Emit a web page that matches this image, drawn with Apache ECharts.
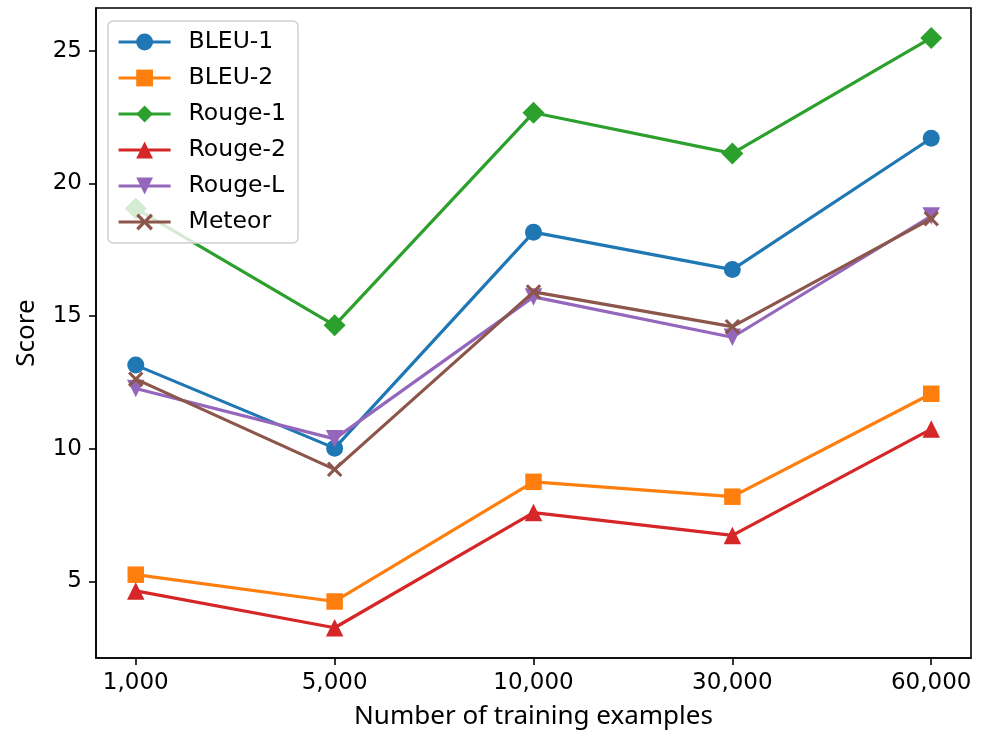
<!DOCTYPE html>
<html>
<head>
<meta charset="utf-8">
<script src="https://cdn.jsdelivr.net/npm/echarts@6/dist/echarts.min.js"></script>
<style>
html,body{margin:0;padding:0;background:#fff;}
#chart{width:986px;height:735px;}
</style>
</head>
<body>
<div id="chart"></div>
<script>
const xLabels = ['1,000', '5,000', '10,000', '30,000', '60,000'];
const yTicks = [5, 10, 15, 20, 25];
const seriesNames = ['BLEU-1', 'BLEU-2', 'Rouge-1', 'Rouge-2', 'Rouge-L', 'Meteor'];
const bleu1 = [13.15, 10.02, 18.16, 16.75, 21.70];
const bleu2 = [5.25, 4.24, 8.75, 8.19, 12.07];
const rouge1 = [19.05, 14.65, 22.66, 21.13, 25.48];
const rouge2 = [4.64, 3.25, 7.59, 6.73, 10.74];
const rougeL = [12.27, 10.37, 15.72, 14.20, 18.77];
const meteor = [12.62, 9.22, 15.91, 14.60, 18.67];

const colors = ['#1f77b4', '#ff7f0e', '#2ca02c', '#d62728', '#9467bd', '#8c564b'];
const values = [bleu1, bleu2, rouge1, rouge2, rougeL, meteor];
const symbols = [
  'circle',
  'rect',
  'diamond',
  'triangle',
  'path://M0,0 L100,0 L50,100 Z',
  'path://M0,14 L14,0 L50,36 L86,0 L100,14 L64,50 L100,86 L86,100 L50,64 L14,100 L0,86 L36,50 Z'
];
const sizes = [17, 16.5, 22, 17.5, 17.5, 15.5];

const chart = echarts.init(document.getElementById('chart'), null, {renderer: 'canvas'});
const tickFont = {fontFamily: 'DejaVu Sans', fontSize: 23, color: '#000'};

const option = {
  animation: false,
  backgroundColor: '#fff',
  grid: {
    left: 96, right: 15, top: 8, bottom: 74,
    show: true, borderColor: '#000', borderWidth: 1.6, backgroundColor: 'transparent'
  },
  legend: {
    orient: 'vertical',
    left: 108, top: 21,
    padding: [9, 12, 9, 9],
    itemWidth: 52, itemHeight: 21,
    itemGap: 14.8,
    backgroundColor: 'rgba(255,255,255,0.8)',
    borderColor: '#d0d0d0', borderWidth: 1.5, borderRadius: 5,
    lineStyle: {width: 3.2},
    textStyle: {fontFamily: 'DejaVu Sans', fontSize: 23.5, color: '#000', padding: [0, 0, 0, 13], lineHeight: 21},
    data: seriesNames
  },
  xAxis: {
    type: 'value', min: -0.2, max: 4.2,
    name: 'Number of training examples', nameLocation: 'middle', nameGap: 46,
    nameTextStyle: {fontFamily: 'Noto Sans', fontSize: 26, color: '#000'},
    axisLine: {show: true, onZero: false, lineStyle: {color: '#000', width: 1.6}},
    axisTick: {show: true, length: 7, lineStyle: {color: '#000', width: 1.6}, customValues: xLabels.map((_, i) => i)},
    axisLabel: Object.assign({margin: 14, customValues: xLabels.map((_, i) => i), formatter: v => xLabels[Math.round(v)]}, tickFont),
    splitLine: {show: false}
  },
  yAxis: {
    type: 'value', min: 2.11, max: 26.61,
    name: 'Score', nameLocation: 'middle', nameGap: 56,
    nameTextStyle: {fontFamily: 'Noto Sans', fontSize: 26, color: '#000'},
    axisLine: {show: true, onZero: false, lineStyle: {color: '#000', width: 1.6}},
    axisTick: {show: true, length: 7, lineStyle: {color: '#000', width: 1.6}, customValues: yTicks},
    axisLabel: Object.assign({margin: 14, customValues: yTicks}, tickFont),
    splitLine: {show: false}
  },
  series: seriesNames.map((name, k) => ({
    name: name,
    type: 'line',
    data: values[k].map((v, i) => [i, v]),
    symbol: symbols[k],
    symbolSize: sizes[k],
    showSymbol: true,
    lineStyle: {color: colors[k], width: 3.2},
    itemStyle: {color: colors[k], borderWidth: 0},
    emphasis: {disabled: true},
    z: 2 + k * 0.01
  }))
};
option.legend.itemGap = 12.0;
chart.setOption(option);
</script>
</body>
</html>
